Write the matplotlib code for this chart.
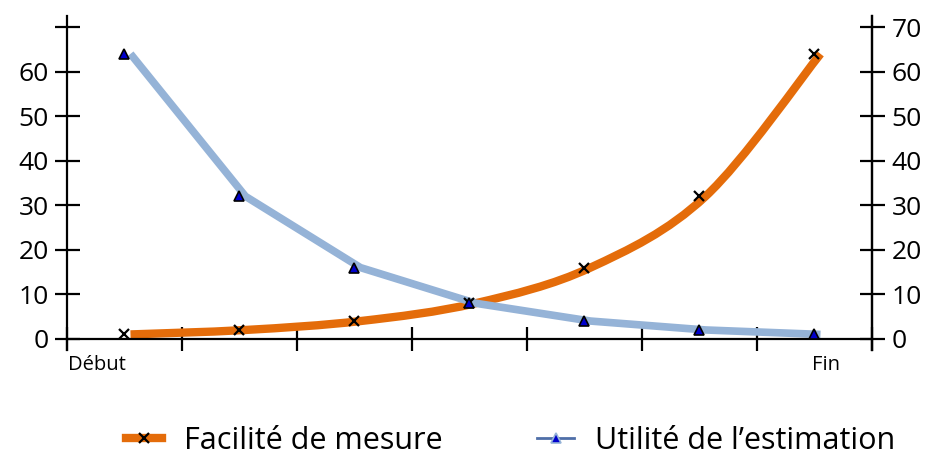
import matplotlib
matplotlib.use('Agg')
import matplotlib.pyplot as plt
import matplotlib.transforms as mtransforms
from matplotlib.path import Path
from matplotlib.patches import PathPatch
from matplotlib.lines import Line2D
import numpy as np

# données
etapes = [0, 1, 2, 3, 4, 5, 6]
facilite = [1, 2, 4, 8, 16, 32, 64]
utilite = [64, 32, 16, 8, 4, 2, 1]
label_debut = "Début"
label_fin = "Fin"
nom_facilite = "Facilité de mesure"
nom_utilite = "Utilité de l\u2019estimation"

ORANGE = '#E46C0A'
BLEU = '#95B3D7'

plt.rcParams['font.family'] = ['Open Sans', 'DejaVu Sans']


def smooth_path(xs, ys, t=1 / 6):
    # courbe lissée type tableur (bezier catmull-rom)
    pts = np.column_stack([xs, ys]).astype(float)
    verts = [pts[0]]
    codes = [Path.MOVETO]
    n = len(pts)
    for i in range(n - 1):
        p0 = pts[i - 1] if i > 0 else pts[i]
        p1 = pts[i]
        p2 = pts[i + 1]
        p3 = pts[i + 2] if i + 2 < n else pts[i + 1]
        c1 = p1 + (p2 - p0) * t
        c2 = p2 - (p3 - p1) * t
        verts += [c1, c2, p2]
        codes += [Path.CURVE4] * 3
    return Path(verts, codes)


fig = plt.figure(figsize=(9.37, 4.57), dpi=100)
ax = fig.add_axes([67 / 937, 1 - 350 / 457, (872 - 67) / 937, (350 - 16) / 457])
ax.set_xlim(-0.5, 6.5)
ax.set_ylim(-2.5, 72.5)

# petit décalage des lignes par rapport aux marqueurs, comme sur l'original
shift = ax.transData + mtransforms.ScaledTranslation(6 / 100, 0, fig.dpi_scale_trans)

patch = PathPatch(smooth_path(etapes, facilite), facecolor='none', edgecolor=ORANGE,
                  lw=6, transform=shift, capstyle='butt', zorder=2)
ax.add_patch(patch)
ax.plot(etapes, utilite, color=BLEU, lw=5.5, transform=shift,
        solid_capstyle='butt', zorder=2)

ax.plot(etapes, facilite, ls='none', marker='x', ms=7, mew=1.6, color='black', zorder=4)
ax.plot(etapes, utilite, ls='none', marker='^', ms=7, mfc='#0000CC', mec='black', mew=1.2, zorder=4)

ax.spines['top'].set_visible(False)
ax.spines['bottom'].set_position(('data', 0))
for s in ['left', 'right', 'bottom']:
    ax.spines[s].set_linewidth(1.6)

ax.set_xticks(np.arange(-0.5, 7, 1))
ax.set_xticklabels([])
ax.tick_params(axis='x', direction='inout', length=17, width=1.6)
ax.set_yticks(range(0, 80, 10))
ax.set_yticklabels([str(v) if v < 70 else '' for v in range(0, 80, 10)])
ax.tick_params(axis='y', direction='inout', length=18, width=1.6, labelsize=19, pad=4)

ax2 = ax.twinx()
ax2.set_ylim(ax.get_ylim())
ax2.set_yticks(range(0, 80, 10))
for s in ['top', 'bottom', 'left']:
    ax2.spines[s].set_visible(False)
ax2.spines['right'].set_linewidth(1.6)
ax2.tick_params(axis='y', direction='inout', length=18, width=1.6, labelsize=19, pad=5)

ax.text(-0.49, -3.6, label_debut, ha='left', va='top', fontsize=14.5)
ax.text(6.1, -3.6, label_fin, ha='center', va='top', fontsize=14.5)

h1 = Line2D([], [], color=ORANGE, lw=6, marker='x', ms=7, mew=1.6, mec='black')
h2 = Line2D([], [], color='#4F6FA8', lw=2, marker='^', ms=7, mfc='#0000CC', mec=BLEU, mew=1.2)
fig.legend([h1, h2], [nom_facilite, nom_utilite], loc='center', bbox_to_anchor=(0.545, 0.035),
           ncol=2, frameon=False, handlelength=1.2, columnspacing=3.1,
           handletextpad=0.7, prop={'family': ['Open Sans', 'DejaVu Sans'], 'size': 22})

fig.savefig('out.png', dpi=100)
